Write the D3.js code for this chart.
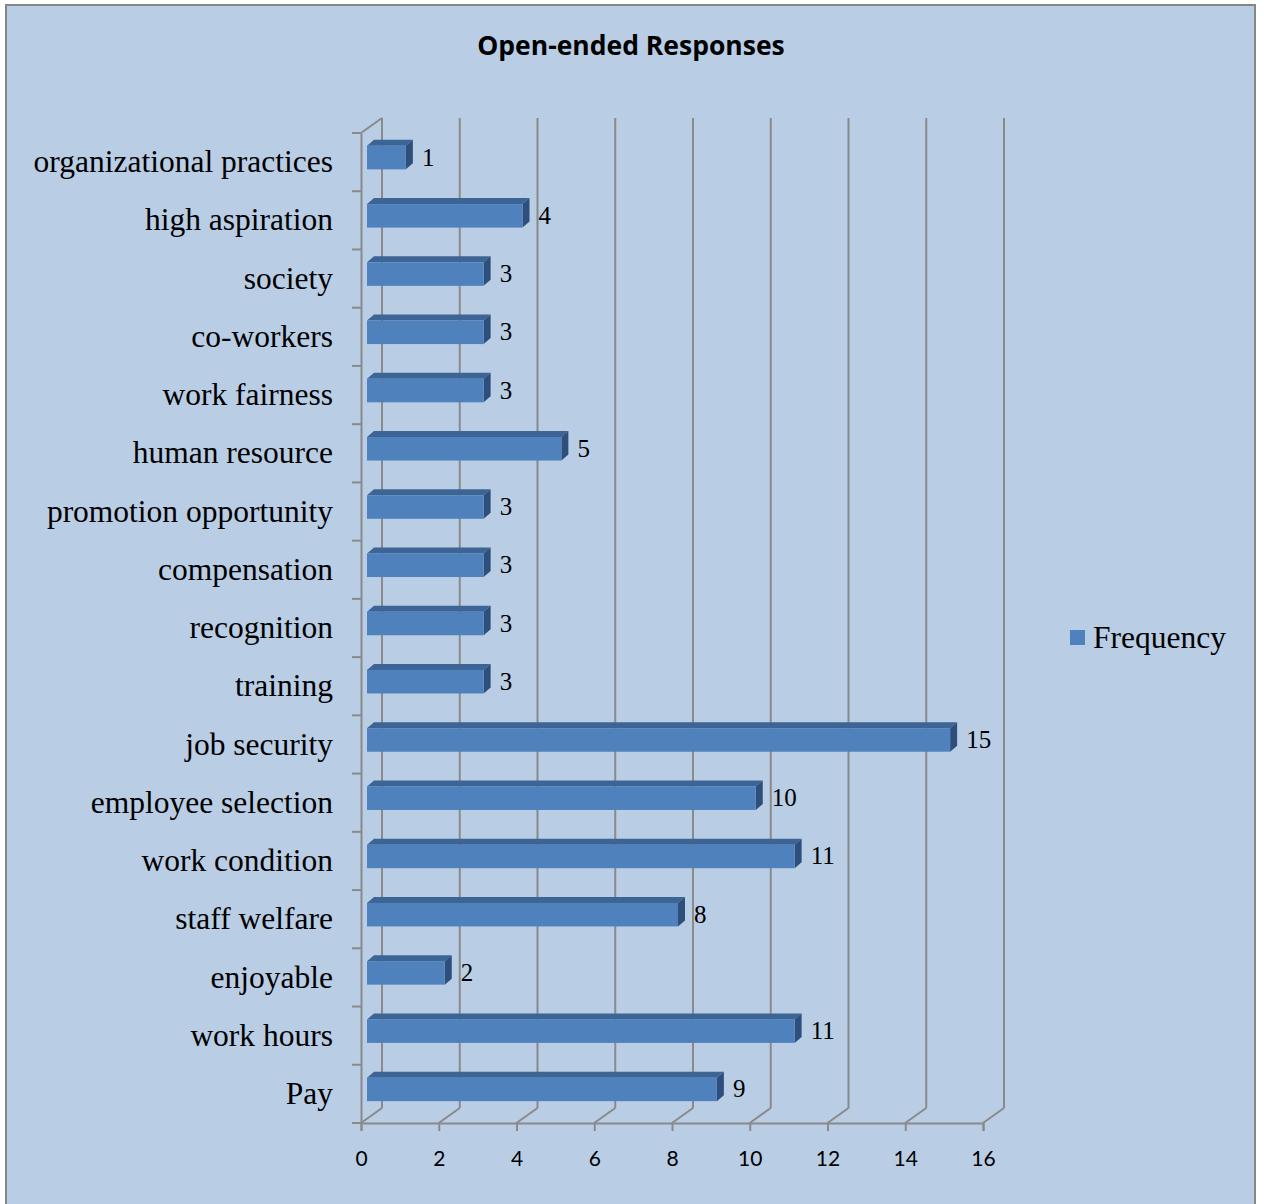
<!DOCTYPE html>
<html>
<head>
<meta charset="utf-8">
<script src="https://cdn.jsdelivr.net/npm/d3@7"></script>
<style>
  body { margin: 0; background: #ffffff; }
</style>
</head>
<body>
<script>
// chart data (top to bottom)
let categories = ["organizational practices", "high aspiration", "society", "co-workers", "work fairness",
                  "human resource", "promotion opportunity", "compensation", "recognition", "training",
                  "job security", "employee selection", "work condition", "staff welfare", "enjoyable",
                  "work hours", "Pay"]
let values = [1, 4, 3, 3, 3, 5, 3, 3, 3, 3, 15, 10, 11, 8, 2, 11, 9]
let xTicks = [0, 2, 4, 6, 8, 10, 12, 14, 16]
let seriesName = "Frequency"

let width = 1264
let height = 1204

// 3d offsets
let backDx = 21, backDy = -15
let barDx = 6, barDy = -4.5
let barDepthX = 7, barDepthY = -6

let svg = d3.select("body")
            .append("svg")
            .attr("width", width)
            .attr("height", height)

svg.append("rect")
    .attr("x", 6)
    .attr("y", 5)
    .attr("width", 1249)
    .attr("height", 1210)
    .attr("fill", "#b9cde5")
    .attr("stroke", "#868686")
    .attr("stroke-width", 2)

svg.append("text")
    .attr("x", 631)
    .attr("y", 55)
    .attr("text-anchor", "middle")
    .style("font-family", "'Open Sans', Lato, sans-serif")
    .style("font-weight", "bold")
    .style("font-size", "26.5px")
    .text("Open-ended Responses")

let xScale = d3.scaleLinear()
                .domain([0, 16])
                .range([361, 983])

let yScale = d3.scaleBand()
                .domain(categories)
                .range([133, 1123])

let gridColor = "#8a8a8a"
let grid = svg.append("g")

// back wall gridlines
grid.selectAll("line.back")
    .data(xTicks)
    .enter()
    .append("line")
    .attr("x1", d => xScale(d) + backDx)
    .attr("x2", d => xScale(d) + backDx)
    .attr("y1", 133 + backDy)
    .attr("y2", 1123 + backDy)
    .attr("stroke", gridColor)
    .attr("stroke-width", 2)

// floor diagonals
grid.selectAll("line.floor")
    .data(xTicks)
    .enter()
    .append("line")
    .attr("x1", d => xScale(d))
    .attr("x2", d => xScale(d) + backDx)
    .attr("y1", 1123)
    .attr("y2", 1123 + backDy)
    .attr("stroke", gridColor)
    .attr("stroke-width", 2)

// left wall top diagonal
grid.append("line")
    .attr("x1", xScale(0))
    .attr("x2", xScale(0) + backDx)
    .attr("y1", 133)
    .attr("y2", 133 + backDy)
    .attr("stroke", gridColor)
    .attr("stroke-width", 2)

// bars
let bars = svg.append("g")
let barH = 23.5

values.forEach((v, i) => {
    let c = categories[i]
    let x0 = xScale(0) + barDx
    let x1 = xScale(v) + barDx
    let yTop = yScale(c) + yScale.bandwidth() / 2 + barDy - barH / 2
    let yBot = yTop + barH
    // top face
    bars.append("polygon")
        .attr("points", [[x0, yTop], [x0 + barDepthX, yTop + barDepthY], [x1 + barDepthX, yTop + barDepthY], [x1, yTop]].join(" "))
        .attr("fill", "#3c6595")
    // side face
    bars.append("polygon")
        .attr("points", [[x1, yTop], [x1 + barDepthX, yTop + barDepthY], [x1 + barDepthX, yBot + barDepthY], [x1, yBot]].join(" "))
        .attr("fill", "#2e4f7c")
    // front face
    bars.append("rect")
        .attr("x", x0)
        .attr("y", yTop)
        .attr("width", x1 - x0)
        .attr("height", barH)
        .attr("fill", "#4f81bd")
    bars.append("text")
        .attr("x", x1 + barDepthX + 9)
        .attr("y", yTop + barH / 2 + 8)
        .style("font-family", "'Liberation Serif', 'Times New Roman', serif")
        .style("font-size", "25px")
        .text(v)
})

// axes
let xAxis = d3.axisBottom(xScale)
                .tickValues(xTicks)
                .tickSize(8)
                .tickPadding(20)

let gx = svg.append("g")
    .attr("transform", "translate(0,1123)")
    .call(xAxis)
gx.select(".domain").attr("stroke", gridColor).attr("stroke-width", 2)
gx.selectAll(".tick line").attr("stroke", gridColor).attr("stroke-width", 2)
gx.selectAll(".tick text")
    .style("font-family", "Lato, 'Open Sans', sans-serif")
    .style("font-size", "21px")
    .attr("fill", "#000")

let yAxis = d3.axisLeft(yScale)
                .tickSize(0)
                .tickPadding(28)

let gy = svg.append("g")
    .attr("transform", "translate(361,0)")
    .call(yAxis)
gy.select(".domain").attr("stroke", gridColor).attr("stroke-width", 2)
gy.selectAll(".tick text")
    .attr("dy", "0.32em")
    .style("font-family", "'Liberation Serif', 'Times New Roman', serif")
    .style("font-size", "31.5px")
    .attr("fill", "#000")

// band boundary ticks on the left wall
gy.selectAll("line.bound")
    .data(d3.range(categories.length + 1))
    .enter()
    .append("line")
    .attr("x1", -9)
    .attr("x2", 0)
    .attr("y1", i => 133 + i * yScale.step())
    .attr("y2", i => 133 + i * yScale.step())
    .attr("stroke", gridColor)
    .attr("stroke-width", 2)

// legend
let legend = svg.append("g")
legend.append("rect")
    .attr("x", 1070)
    .attr("y", 630)
    .attr("width", 15)
    .attr("height", 15)
    .attr("fill", "#4f81bd")
legend.append("text")
    .attr("x", 1093)
    .attr("y", 648)
    .style("font-family", "'Liberation Serif', 'Times New Roman', serif")
    .style("font-size", "31.5px")
    .text(seriesName)
</script>
</body>
</html>
